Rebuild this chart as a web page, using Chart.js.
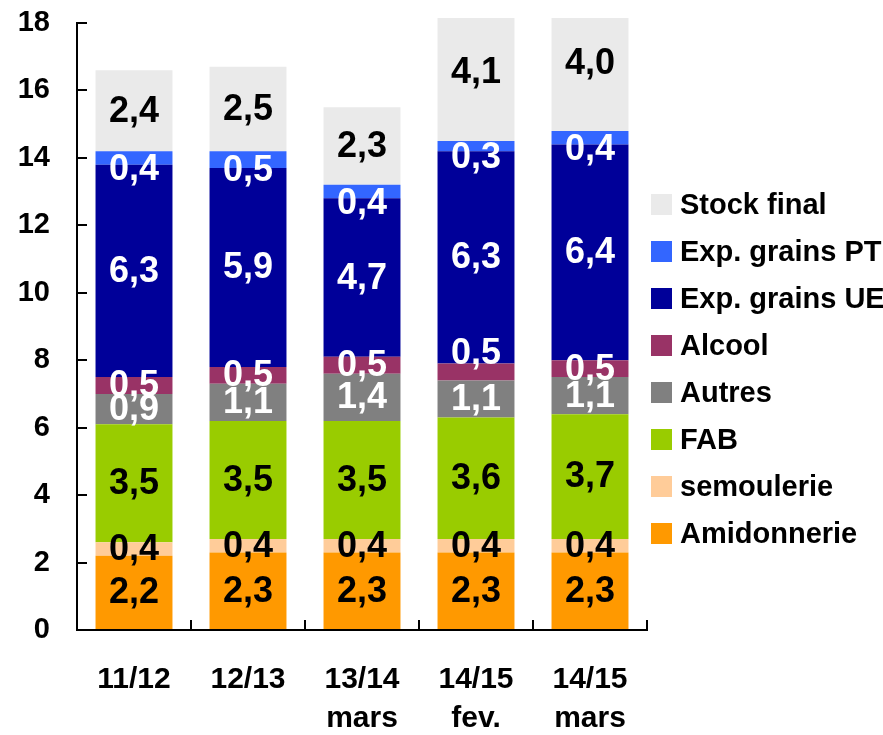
<!DOCTYPE html>
<html>
<head>
<meta charset="utf-8">
<script src="https://cdn.jsdelivr.net/npm/chart.js@4"></script>
<style>
  html, body { margin: 0; padding: 0; background: #fff; overflow: hidden; }
  #wrap { width: 883px; height: 735px; }
</style>
</head>
<body>
<div id="wrap"><canvas id="chart" width="883" height="735"></canvas></div>
<script>
const categories = [["11/12"], ["12/13"], ["13/14", "mars"], ["14/15", "fev."], ["14/15", "mars"]];

const amidonnerie = [2.2, 2.3, 2.3, 2.3, 2.3];
const semoulerie  = [0.4, 0.4, 0.4, 0.4, 0.4];
const fab         = [3.5, 3.5, 3.5, 3.6, 3.7];
const autres      = [0.9, 1.1, 1.4, 1.1, 1.1];
const alcool      = [0.5, 0.5, 0.5, 0.5, 0.5];
const expUE       = [6.3, 5.9, 4.7, 6.3, 6.4];
const expPT       = [0.4, 0.5, 0.4, 0.3, 0.4];
const stockFinal  = [2.4, 2.5, 2.3, 4.1, 4.0];

const yTicks = [0, 2, 4, 6, 8, 10, 12, 14, 16, 18];

const FONT = '"Liberation Sans", Arial, sans-serif';

function bar(label, data, color, labelColor, shift) {
  return {
    label, data,
    backgroundColor: color,
    labelColor,
    labelShift: shift || (() => 0),
    borderWidth: 0,
    clip: { left: false, right: false, top: 5, bottom: false }
  };
}

// value labels in the middle of each segment
const valueLabels = {
  id: "valueLabels",
  afterDatasetsDraw(chart) {
    const ctx = chart.ctx;
    ctx.save();
    ctx.font = "bold 36px " + FONT;
    ctx.textAlign = "center";
    ctx.textBaseline = "middle";
    chart.data.datasets.forEach((ds, i) => {
      chart.getDatasetMeta(i).data.forEach((el, j) => {
        const { x, y, base } = el.getProps(["x", "y", "base"], true);
        ctx.fillStyle = ds.labelColor;
        ctx.fillText(ds.data[j].toFixed(1).replace(".", ","), x, (y + base) / 2 + 1 + ds.labelShift(j));
      });
    });
    ctx.restore();
  }
};

// legend on the right, top item = last series
const sideLegend = {
  id: "sideLegend",
  afterDraw(chart) {
    const ctx = chart.ctx;
    ctx.save();
    ctx.font = "bold 29px " + FONT;
    ctx.textBaseline = "middle";
    ctx.textAlign = "left";
    chart.data.datasets.slice().reverse().forEach((ds, k) => {
      const cy = 204.5 + k * 47;
      ctx.fillStyle = ds.backgroundColor;
      ctx.fillRect(651, cy - 10.5, 21, 21);
      ctx.fillStyle = "#000";
      ctx.fillText(ds.label, 680, cy + 1);
    });
    ctx.restore();
  }
};

new Chart(document.getElementById("chart"), {
  type: "bar",
  data: {
    labels: categories,
    datasets: [
      bar("Amidonnerie", amidonnerie, "#FF9900", "#000"),
      bar("semoulerie", semoulerie, "#FFCC99", "#000"),
      bar("FAB", fab, "#99CC00", "#000"),
      bar("Autres", autres, "#808080", "#fff"),
      bar("Alcool", alcool, "#993366", "#fff", j => (j === 3 ? -19 : 0)),
      bar("Exp. grains UE", expUE, "#000099", "#fff"),
      bar("Exp. grains PT", expPT, "#3366FF", "#fff", () => 11),
      bar("Stock final", stockFinal, "#EAEAEA", "#000")
    ]
  },
  options: {
    responsive: false,
    animation: false,
    events: [],
    layout: { padding: { left: 0, right: 236, top: 23, bottom: 0 } },
    datasets: { bar: { categoryPercentage: 1, barPercentage: 0.675 } },
    plugins: { legend: { display: false }, tooltip: { enabled: false } },
    scales: {
      x: {
        stacked: true,
        grid: { offset: true, drawOnChartArea: false, tickLength: -10, color: "#000", lineWidth: 2 },
        border: { display: true, color: "#000", width: 2 },
        ticks: {
          color: "#000", autoSkip: false, maxRotation: 0, padding: 40,
          font: { family: FONT, size: 30, weight: "bold", lineHeight: 1.3 }
        },
        afterFit(s) { s.height = 105; s.paddingLeft = 0; s.paddingRight = 0; }
      },
      y: {
        stacked: true, min: 0, max: 18,
        grid: { drawOnChartArea: false, tickLength: -10, color: "#000", lineWidth: 2 },
        border: { display: true, color: "#000", width: 2 },
        afterBuildTicks(s) { s.ticks = yTicks.map(v => ({ value: v })); },
        ticks: {
          color: "#000", padding: 37,
          font: { family: FONT, size: 29, weight: "bold" }
        },
        afterFit(s) { s.width = 77; s.paddingTop = 0; s.paddingBottom = 0; }
      }
    }
  },
  plugins: [valueLabels, sideLegend]
});
</script>
</body>
</html>
